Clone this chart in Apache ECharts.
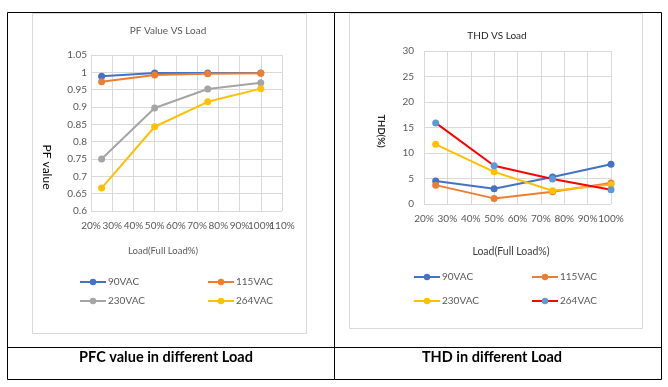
<!DOCTYPE html>
<html><head><meta charset="utf-8">
<script src="https://cdn.jsdelivr.net/npm/echarts@6/dist/echarts.min.js"></script>
<style>html,body{margin:0;padding:0;background:#fff}#c{width:668px;height:387px}</style>
</head><body><div id="c"></div>
<script>
const loadPct = [25, 50, 75, 100];
const seriesNames = ['90VAC', '115VAC', '230VAC', '264VAC'];
const pf90 = [0.989, 0.998, 0.998, 0.998];
const pf115 = [0.973, 0.992, 0.996, 0.997];
const pf230 = [0.750, 0.897, 0.952, 0.970];
const pf264 = [0.666, 0.843, 0.915, 0.953];
const thd90 = [4.5, 3.0, 5.3, 7.8];
const thd115 = [3.7, 1.1, 2.4, 4.1];
const thd230 = [11.7, 6.3, 2.6, 3.8];
const thd264 = [15.9, 7.5, 4.9, 2.8];

const FONT = 'Lato';
const GRID = '#d9d9d9';
const pfColors = ['#4472C4', '#ED7D31', '#A5A5A5', '#FFC000'];
const thdLine = ['#4472C4', '#ED7D31', '#FFC000', '#FF0000'];
const thdMark = ['#4472C4', '#ED7D31', '#FFC000', '#5B9BD5'];

const pick = (xs, ys) => xs.map((x, i) => [x, ys[i]]);

function mkSeries(name, data, idx, lineColor, markColor) {
  return {
    type: 'line', name, data, xAxisIndex: idx, yAxisIndex: idx,
    symbol: 'circle', symbolSize: 7,
    lineStyle: { color: lineColor, width: 2 },
    itemStyle: { color: markColor },
    emphasis: { disabled: true }
  };
}
const pfData = [pf90, pf115, pf230, pf264];
const thdData = [thd90, thd115, thd230, thd264];
const series = [];
seriesNames.forEach((n, i) => series.push(mkSeries(n, pick(loadPct, pfData[i]), 0, pfColors[i], pfColors[i])));
seriesNames.forEach((n, i) => series.push(mkSeries(n + '#R', pick(loadPct, thdData[i]), 1, thdLine[i], thdMark[i])));

function legendAt(name, left, top) {
  return {
    data: [name], left, top, orient: 'horizontal', padding: 0,
    itemWidth: 26, itemHeight: 8, itemGap: 0, selectedMode: false,
    formatter: n => '{t|' + n.split('#')[0] + '}',
    textStyle: { fontFamily: FONT, fontSize: 10, color: '#595959',
      rich: { t: { fontFamily: FONT, fontSize: 10, color: '#595959', padding: [0, 0, 0, -3] } } }
  };
}

function txt(x, y, text, opts) {
  return Object.assign({
    type: 'text', x, y,
    style: Object.assign({ text, align: 'center', verticalAlign: 'middle', fontFamily: FONT, fontSize: 10, fill: '#595959' }, opts && opts.style || {})
  }, opts && opts.rotation !== undefined ? { rotation: opts.rotation } : {});
}

const axisCommon = {
  axisLine: { show: false }, axisTick: { show: false },
  splitLine: { show: true, lineStyle: { color: GRID, width: 1 } }
};
const lblBase = { fontFamily: FONT, fontSize: 10, color: '#595959', margin: 10, hideOverlap: false };
// Left x-axis labels are split across two overlaid axes so the crowded "100%" is not auto-hidden.
const SPLIT_TICK = 100;

const option = {
  animation: false,
  grid: [
    { left: 91, right: 668 - 282, top: 55, bottom: 387 - 211 },
    { left: 424, right: 668 - 611, top: 51, bottom: 387 - 204 }
  ],
  xAxis: [
    Object.assign({ type: 'value', gridIndex: 0, min: 20, max: 110, interval: 10, position: 'bottom',
      axisLabel: Object.assign({}, lblBase, { showMaxLabel: true, showMinLabel: true,
        formatter: v => v === SPLIT_TICK ? '' : v + '%' }) }, axisCommon),
    Object.assign({ type: 'value', gridIndex: 1, min: 20, max: 100, interval: 10,
      axisLabel: Object.assign({}, lblBase, { formatter: '{value}%', showMaxLabel: true, showMinLabel: true }) }, axisCommon),
    { type: 'value', gridIndex: 0, min: 20, max: 110, interval: 10, position: 'bottom', offset: 0,
      axisLine: { show: false }, axisTick: { show: false }, splitLine: { show: false },
      axisLabel: Object.assign({}, lblBase, { showMaxLabel: true, showMinLabel: true,
        formatter: v => v === SPLIT_TICK ? v + '%' : '' }) }
  ],
  yAxis: [
    Object.assign({ type: 'value', gridIndex: 0, min: 0.6, max: 1.05, interval: 0.05,
      axisLabel: { fontFamily: FONT, fontSize: 10, color: '#595959', margin: 4,
        formatter: v => String(Math.round(v * 100) / 100) } }, axisCommon),
    Object.assign({ type: 'value', gridIndex: 1, min: 0, max: 30, interval: 5,
      axisLabel: { fontFamily: FONT, fontSize: 10, color: '#595959', margin: 10 } }, axisCommon)
  ],
  legend: [
    legendAt('90VAC', 79, 277), legendAt('115VAC', 207, 277),
    legendAt('230VAC', 79, 296), legendAt('264VAC', 207, 296),
    legendAt('90VAC#R', 413, 272), legendAt('115VAC#R', 531, 272),
    legendAt('230VAC#R', 413, 296), legendAt('264VAC#R', 531, 296)
  ],
  series,
  graphic: [
    { type: 'rect', shape: { x: 32.5, y: 13.5, width: 274, height: 320 }, style: { fill: 'none', stroke: GRID, lineWidth: 1 }, z: -1 },
    { type: 'rect', shape: { x: 349.5, y: 13.5, width: 293, height: 315 }, style: { fill: 'none', stroke: GRID, lineWidth: 1 }, z: -1 },
    { type: 'rect', shape: { x: 7.5, y: 12.5, width: 654, height: 367 }, style: { fill: 'none', stroke: '#000', lineWidth: 1 } },
    { type: 'line', shape: { x1: 334.5, y1: 12.5, x2: 334.5, y2: 379.5 }, style: { stroke: '#000', lineWidth: 1 } },
    { type: 'line', shape: { x1: 7.5, y1: 347.5, x2: 661.5, y2: 347.5 }, style: { stroke: '#000', lineWidth: 1 } },
    txt(168, 31, 'PF Value VS Load', { style: { fontSize: 10 } }),
    txt(497, 36, 'THD VS Load', { style: { fontSize: 10, fill: '#262626' } }),
    txt(163, 251, 'Load(Full Load%)', { style: { fontSize: 9.5 } }),
    txt(511, 252, 'Load(Full Load%)', { style: { fontSize: 10.5, fill: '#404040' } }),
    txt(47, 167, 'PF value', { rotation: -Math.PI / 2, style: { fontSize: 12, fill: '#000' } }),
    txt(381, 131, 'THD(%)', { rotation: -Math.PI / 2, style: { fontSize: 9.5, fontWeight: 'bold', fill: '#262626' } }),
    txt(166, 357, 'PFC value in different Load', { style: { fontSize: 14.5, fontWeight: 'bold', fill: '#000' } }),
    txt(492, 357, 'THD in different Load', { style: { fontSize: 14.5, fontWeight: 'bold', fill: '#000' } })
  ]
};
echarts.init(document.getElementById('c')).setOption(option);
</script></body></html>
